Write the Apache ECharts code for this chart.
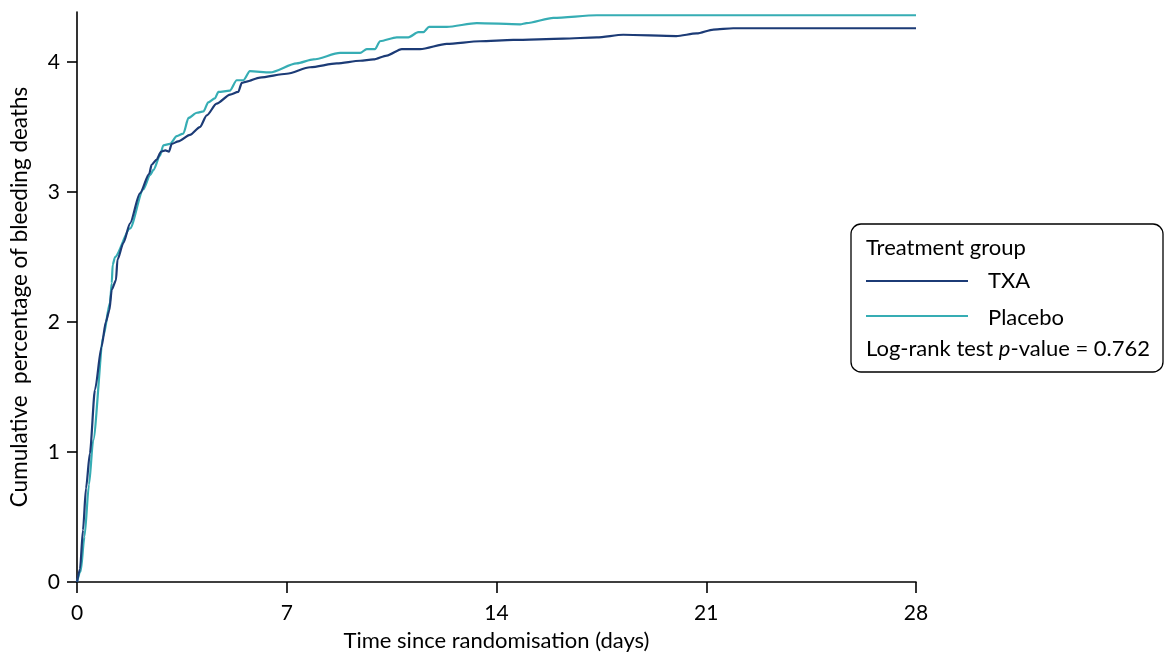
<!DOCTYPE html>
<html>
<head>
<meta charset="utf-8">
<script src="https://cdn.jsdelivr.net/npm/echarts@6/dist/echarts.min.js"></script>
<style>html,body{margin:0;padding:0;background:#fff;}#c{width:1164px;height:655px;}</style>
</head>
<body>
<div id="c"></div>
<script>
var xTicks = [0, 7, 14, 21, 28];
var yTicks = [0, 1, 2, 3, 4];
var seriesNames = ['TXA', 'Placebo'];

var txaDays = [0, 0.1, 0.2, 0.3, 0.43, 0.6, 0.82, 0.96, 1.08, 1.16, 1.30, 1.35, 1.55, 1.77, 2.10, 2.41, 2.49, 2.66, 2.80, 2.95, 3.07, 3.16, 3.38, 3.77, 4.1, 4.33, 4.66, 5.11, 5.38, 5.5, 5.66, 6.1, 7.0, 7.78, 8.67, 9.45, 9.89, 10.34, 10.84, 11.45, 12.34, 13.45, 14.56, 16.23, 17.35, 18.23, 20.0, 20.68, 21.24, 21.9, 28];
var txaVals = [0, 0.1, 0.4, 0.72, 0.99, 1.48, 1.81, 2.0, 2.09, 2.25, 2.32, 2.48, 2.61, 2.76, 2.99, 3.14, 3.21, 3.25, 3.31, 3.32, 3.31, 3.37, 3.39, 3.44, 3.50, 3.59, 3.68, 3.75, 3.77, 3.84, 3.85, 3.88, 3.91, 3.96, 3.99, 4.01, 4.02, 4.05, 4.10, 4.10, 4.14, 4.16, 4.17, 4.18, 4.19, 4.21, 4.20, 4.22, 4.25, 4.26, 4.26];

var plaDays = [0, 0.12, 0.25, 0.4, 0.54, 0.88, 1.1, 1.16, 1.19, 1.27, 1.77, 2.21, 2.44, 2.55, 2.77, 2.88, 3.1, 3.33, 3.55, 3.72, 4.0, 4.22, 4.38, 4.6, 4.72, 5.1, 5.33, 5.55, 5.77, 6.44, 7.33, 7.89, 8.78, 9.45, 9.67, 9.95, 10.11, 10.67, 11.06, 11.39, 11.56, 11.75, 12.34, 13.34, 14.79, 15.0, 15.9, 17.35, 28];
var plaVals = [0, 0.08, 0.35, 0.75, 1.09, 1.89, 2.15, 2.3, 2.44, 2.50, 2.72, 3.02, 3.13, 3.17, 3.28, 3.36, 3.37, 3.43, 3.45, 3.57, 3.61, 3.62, 3.69, 3.72, 3.77, 3.78, 3.86, 3.86, 3.93, 3.92, 3.99, 4.02, 4.07, 4.07, 4.10, 4.10, 4.16, 4.19, 4.19, 4.23, 4.23, 4.27, 4.27, 4.30, 4.29, 4.30, 4.34, 4.36, 4.36];

function pairs(xs, ys) { return xs.map(function (x, i) { return [x, ys[i]]; }); }

var FONT = 'Lato';
var C_TXA = '#1c3b76';
var C_PLA = '#36adb4';
var chart = echarts.init(document.getElementById('c'));
chart.setOption({
  animation: false,
  backgroundColor: '#fff',
  textStyle: { fontFamily: FONT },
  grid: { left: 77, right: 248, top: 12, bottom: 73, containLabel: false, outerBoundsMode: 'none' },
  xAxis: {
    type: 'value', min: 0, max: 28, interval: 7,
    name: 'Time since randomisation (days)', nameLocation: 'middle', nameGap: 48,
    nameTextStyle: { fontFamily: FONT, fontSize: 22, color: '#000' },
    axisLine: { lineStyle: { color: '#000', width: 1.6 } },
    axisTick: { length: 11, lineStyle: { color: '#000', width: 1.6 }, customValues: xTicks },
    axisLabel: { fontFamily: FONT, fontSize: 21, color: '#000', margin: 21, customValues: xTicks },
    splitLine: { show: false }
  },
  yAxis: {
    type: 'value', min: 0, max: 4.385,
    name: 'Cumulative  percentage of bleeding deaths', nameLocation: 'middle', nameGap: 46,
    nameTextStyle: { fontFamily: FONT, fontSize: 22.5, color: '#000' },
    axisLine: { show: true, lineStyle: { color: '#000', width: 1.6 } },
    axisTick: { show: true, length: 10, lineStyle: { color: '#000', width: 1.6 }, customValues: yTicks },
    axisLabel: { fontFamily: FONT, fontSize: 21, color: '#000', margin: 17, customValues: yTicks },
    splitLine: { show: false }
  },
  graphic: [
    { type: 'rect', shape: { x: 851, y: 224, width: 312, height: 148, r: 10 },
      style: { fill: '#fff', stroke: '#000', lineWidth: 1.3 }, z: 10 },
    { type: 'text', x: 866, y: 248, style: { text: 'Treatment group', font: '22px Lato', fill: '#000', verticalAlign: 'middle' }, z: 11 },
    { type: 'line', shape: { x1: 866, y1: 281, x2: 968, y2: 281 }, style: { stroke: C_TXA, lineWidth: 2 }, z: 11 },
    { type: 'text', x: 988, y: 281, style: { text: seriesNames[0], font: '22px Lato', fill: '#000', verticalAlign: 'middle' }, z: 11 },
    { type: 'line', shape: { x1: 866, y1: 316, x2: 968, y2: 316 }, style: { stroke: C_PLA, lineWidth: 2 }, z: 11 },
    { type: 'text', x: 988, y: 318, style: { text: seriesNames[1], font: '22px Lato', fill: '#000', verticalAlign: 'middle' }, z: 11 },
    { type: 'text', x: 866, y: 349, style: {
        text: '{a|Log-rank test }{b|p}{a|-value = 0.762}', verticalAlign: 'middle',
        rich: { a: { fontFamily: FONT, fontSize: 22, color: '#000' }, b: { fontFamily: FONT, fontStyle: 'italic', fontSize: 22, color: '#000' } }
      }, z: 11 }
  ],
  series: [
    { name: seriesNames[0], type: 'line', data: pairs(txaDays, txaVals), showSymbol: false, symbol: 'none',
      smooth: 0.25, smoothMonotone: 'x', lineStyle: { color: C_TXA, width: 2.2 }, itemStyle: { color: C_TXA }, z: 3 },
    { name: seriesNames[1], type: 'line', data: pairs(plaDays, plaVals), showSymbol: false, symbol: 'none',
      smooth: 0.25, smoothMonotone: 'x', lineStyle: { color: C_PLA, width: 2.2 }, itemStyle: { color: C_PLA }, z: 2 }
  ]
});
</script>
</body>
</html>
